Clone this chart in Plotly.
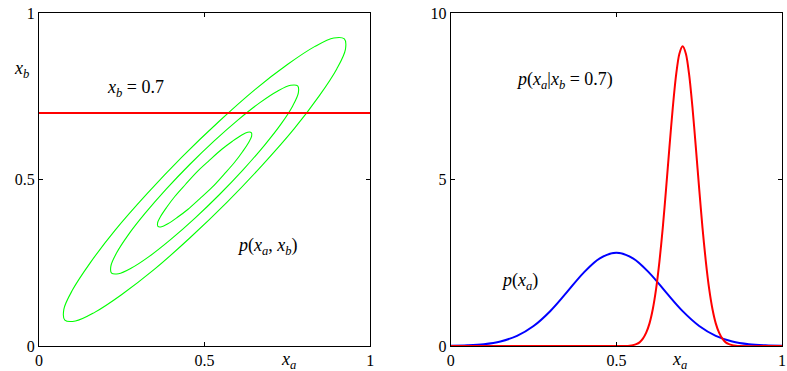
import plotly.graph_objects as go
from plotly.subplots import make_subplots

# ---- Left panel: contours of p(xa, xb) ----
ell1_x = [0.477, 0.442, 0.410, 0.385, 0.367, 0.358, 0.359, 0.370, 0.389, 0.416, 0.449, 0.485,
          0.523, 0.558, 0.590, 0.615, 0.633, 0.642, 0.641, 0.630, 0.611, 0.584, 0.551, 0.515, 0.477]
ell1_y = [0.523, 0.485, 0.449, 0.416, 0.389, 0.370, 0.359, 0.358, 0.367, 0.385, 0.410, 0.442,
          0.477, 0.515, 0.551, 0.584, 0.611, 0.630, 0.641, 0.642, 0.633, 0.615, 0.590, 0.558, 0.523]
ell2_x = [0.455, 0.384, 0.320, 0.269, 0.234, 0.217, 0.219, 0.240, 0.279, 0.333, 0.398, 0.471,
          0.545, 0.616, 0.680, 0.731, 0.766, 0.783, 0.781, 0.760, 0.721, 0.667, 0.602, 0.529, 0.455]
ell2_y = [0.545, 0.471, 0.398, 0.333, 0.279, 0.240, 0.219, 0.217, 0.234, 0.269, 0.320, 0.384,
          0.455, 0.529, 0.602, 0.667, 0.721, 0.760, 0.781, 0.783, 0.766, 0.731, 0.680, 0.616, 0.545]
ell3_x = [0.432, 0.325, 0.230, 0.154, 0.101, 0.075, 0.078, 0.110, 0.168, 0.249, 0.348, 0.456,
          0.568, 0.675, 0.770, 0.846, 0.899, 0.925, 0.922, 0.890, 0.832, 0.751, 0.652, 0.544, 0.432]
ell3_y = [0.568, 0.456, 0.348, 0.249, 0.168, 0.110, 0.078, 0.075, 0.101, 0.154, 0.230, 0.325,
          0.432, 0.544, 0.652, 0.751, 0.832, 0.890, 0.922, 0.925, 0.899, 0.846, 0.770, 0.675, 0.568]

cond_line_x = [0.0, 1.0]
cond_line_y = [0.7, 0.7]

# ---- Right panel: marginal p(xa) and conditional p(xa | xb = 0.7) ----
marg_x = [0.00, 0.05, 0.10, 0.15, 0.20, 0.25, 0.30, 0.35, 0.40, 0.45, 0.50,
          0.55, 0.60, 0.65, 0.70, 0.75, 0.80, 0.85, 0.90, 0.95, 1.00]
marg_y = [0.006, 0.019, 0.054, 0.137, 0.305, 0.601, 1.046, 1.609, 2.189, 2.633, 2.80,
          2.633, 2.189, 1.609, 1.046, 0.601, 0.305, 0.137, 0.054, 0.019, 0.006]

cond_x = [0.00, 0.50, 0.53, 0.54, 0.55, 0.56, 0.57, 0.58, 0.59, 0.60, 0.61, 0.62, 0.63, 0.64,
          0.65, 0.66, 0.67, 0.68, 0.69, 0.70, 0.71, 0.72, 0.73, 0.74, 0.75, 0.76, 0.77,
          0.78, 0.79, 0.80, 0.81, 0.82, 0.83, 0.84, 0.85, 0.86, 0.87, 1.00]
cond_y = [0.0, 0.0, 0.0, 0.01, 0.027, 0.057, 0.11, 0.22, 0.40, 0.68, 1.11, 1.72, 2.54, 3.55,
          4.72, 5.95, 7.13, 8.12, 8.77, 9.00, 8.77, 8.12, 7.13, 5.95, 4.72, 3.55, 2.54,
          1.72, 1.11, 0.68, 0.40, 0.22, 0.11, 0.057, 0.027, 0.01, 0.0, 0.0]

left_ticks = [0, 0.5, 1]
left_ticktext = ["0", "0.5", "1"]
right_yticks = [0, 5, 10]
right_yticktext = ["0", "5", "10"]

GREEN = "#00ff00"
RED = "#ff0000"
BLUE = "#0000ff"
FONT = "Liberation Serif, DejaVu Serif, serif"

fig = make_subplots(rows=1, cols=2)

for ex, ey in [(ell1_x, ell1_y), (ell2_x, ell2_y), (ell3_x, ell3_y)]:
    fig.add_trace(go.Scatter(x=ex, y=ey, mode="lines",
                             line=dict(color=GREEN, width=1.1, shape="spline", smoothing=1.0),
                             showlegend=False, hoverinfo="skip"), row=1, col=1)

fig.add_trace(go.Scatter(x=cond_line_x, y=cond_line_y, mode="lines",
                         line=dict(color=RED, width=2), showlegend=False), row=1, col=1)

fig.add_trace(go.Scatter(x=marg_x, y=marg_y, mode="lines",
                         line=dict(color=BLUE, width=2, shape="spline", smoothing=1.0),
                         showlegend=False), row=1, col=2)
fig.add_trace(go.Scatter(x=cond_x, y=cond_y, mode="lines",
                         line=dict(color=RED, width=2, shape="spline", smoothing=0.8),
                         showlegend=False), row=1, col=2)

axis_common = dict(showline=True, linecolor="black", linewidth=1.3, mirror="ticks",
                   ticks="inside", ticklen=4, tickcolor="black", tickwidth=1,
                   showgrid=False, zeroline=False,
                   tickfont=dict(family=FONT, size=16, color="black"))

fig.update_xaxes(range=[0, 1], tickvals=left_ticks, ticktext=left_ticktext,
                 domain=[0, 333 / 747], **axis_common, row=1, col=1)
fig.update_yaxes(range=[0, 1], tickvals=left_ticks, ticktext=left_ticktext,
                 **axis_common, row=1, col=1)
fig.update_xaxes(range=[0, 1], tickvals=left_ticks, ticktext=left_ticktext,
                 domain=[414 / 747, 1], **axis_common, row=1, col=2)
fig.update_yaxes(range=[0, 10], tickvals=right_yticks, ticktext=right_yticktext,
                 **axis_common, row=1, col=2)

ann_font = dict(family=FONT, size=18, color="black")
annotations = [
    dict(x=0.29, y=0.772, xref="x", yref="y",
         text="<i>x</i><sub><i>b</i></sub> = 0.7"),
    dict(x=0.69, y=0.300, xref="x", yref="y",
         text="<i>p</i>(<i>x</i><sub><i>a</i></sub>, <i>x</i><sub><i>b</i></sub>)"),
    dict(x=-0.037, y=0.872, xref="paper", yref="paper",
         text="<i>x</i><sub><i>b</i></sub>"),
    dict(x=0.3226, y=-0.085, xref="paper", yref="paper",
         text="<i>x</i><sub><i>a</i></sub>"),
    dict(x=0.343, y=7.98, xref="x2", yref="y2",
         text="<i>p</i>(<i>x</i><sub><i>a</i></sub>|<i>x</i><sub><i>b</i></sub> = 0.7)"),
    dict(x=0.207, y=1.95, xref="x2", yref="y2",
         text="<i>p</i>(<i>x</i><sub><i>a</i></sub>)"),
    dict(x=0.8755, y=-0.085, xref="paper", yref="paper",
         text="<i>x</i><sub><i>a</i></sub>"),
]
for a in annotations:
    a.update(showarrow=False, font=ann_font)

fig.update_layout(width=787, height=371,
                  margin=dict(l=39, r=1, t=13, b=25),
                  paper_bgcolor="white", plot_bgcolor="white",
                  annotations=annotations, showlegend=False)

fig.write_html("out.html", config={"displayModeBar": False},
               post_script="document.body.style.margin='0';document.body.style.overflow='hidden';")
